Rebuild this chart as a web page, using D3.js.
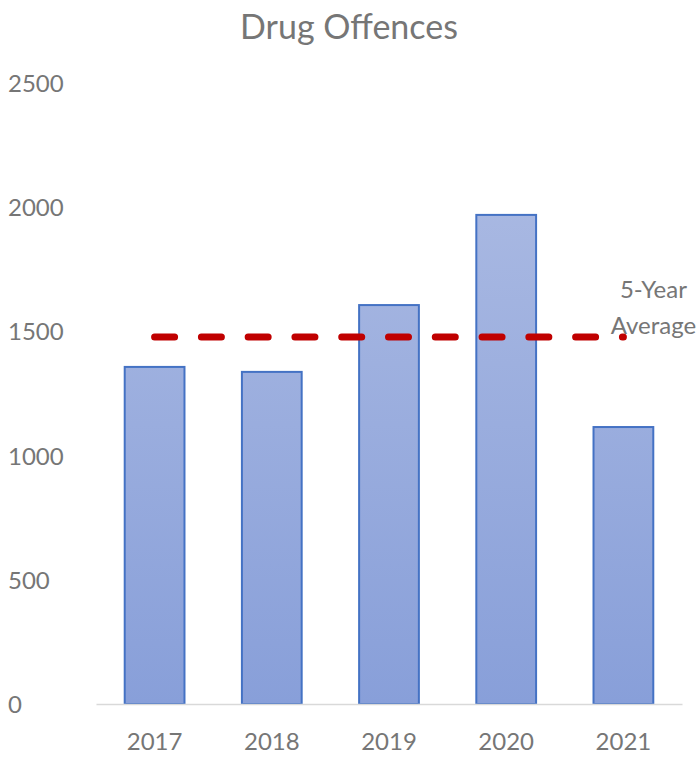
<!DOCTYPE html>
<html>
<head>
<meta charset="utf-8">
<script src="https://cdn.jsdelivr.net/npm/d3@7"></script>
<style>
  body { margin: 0; background: #fff; }
  svg text { font-family: Lato, "Open Sans", sans-serif; fill: #767676; }
</style>
</head>
<body>
<svg id="chart"></svg>
<script>
const years = ['2017', '2018', '2019', '2020', '2021'];
const offences = [1357, 1337, 1606, 1969, 1115];
const fiveYearAverage = [1477, 1477, 1477, 1477, 1477];
const yTicks = [0, 500, 1000, 1500, 2000, 2500];

const fullWidth = 698;
const fullHeight = 760;
const margin = { top: 83, right: 16, bottom: 56, left: 96 };
const width = fullWidth - margin.left - margin.right;
const height = fullHeight - margin.top - margin.bottom;

const svg = d3.select('#chart')
    .attr('width', fullWidth)
    .attr('height', fullHeight);

const defs = svg.append('defs');
const grad = defs.append('linearGradient')
    .attr('id', 'barFill')
    .attr('gradientUnits', 'userSpaceOnUse')
    .attr('x1', 0).attr('x2', 0)
    .attr('y1', 0).attr('y2', height);
grad.append('stop').attr('offset', '0%').attr('stop-color', '#B0BEE4');
grad.append('stop').attr('offset', '100%').attr('stop-color', '#889FD9');

const g = svg.append('g')
    .attr('transform', `translate(${margin.left}, ${margin.top})`);

const x = d3.scaleBand()
    .domain(years)
    .range([0, width])
    .paddingInner(0.49)
    .paddingOuter(0.245);

const y = d3.scaleLinear()
    .domain([0, 2500])
    .range([height, 0]);

// title
svg.append('text')
    .attr('x', fullWidth / 2)
    .attr('y', 39)
    .attr('text-anchor', 'middle')
    .style('font-size', '34px')
    .text('Drug Offences');

// y tick labels (no axis line)
g.append('g')
    .attr('class', 'y axis')
    .call(d3.axisLeft(y).tickValues(yTicks).tickFormat(d3.format('d')).tickSize(0).tickPadding(0))
    .call(s => s.select('.domain').remove())
    .selectAll('text')
      .attr('x', -96 + 8)
      .attr('text-anchor', 'start')
      .attr('dy', '0.35em')
      .style('font-size', '24px');

// bars
g.selectAll('rect.bar')
    .data(years)
  .enter().append('rect')
    .attr('class', 'bar')
    .attr('x', d => x(d))
    .attr('y', (d, i) => y(offences[i]))
    .attr('width', x.bandwidth())
    .attr('height', (d, i) => height - y(offences[i]))
    .attr('fill', 'url(#barFill)')
    .attr('stroke', '#4472C4')
    .attr('stroke-width', 2);

// x axis
g.append('g')
    .attr('class', 'x axis')
    .attr('transform', `translate(0, ${height})`)
    .call(d3.axisBottom(x).tickSize(0).tickPadding(29))
    .call(s => s.select('.domain').attr('stroke', '#D9D9D9').attr('stroke-width', 1.5))
    .selectAll('text')
      .style('font-size', '24px');

// 5-year average line
const line = d3.line()
    .x((d, i) => x(years[i]) + x.bandwidth() / 2)
    .y(d => y(d));

g.append('path')
    .datum(fiveYearAverage)
    .attr('d', line)
    .attr('fill', 'none')
    .attr('stroke', '#C00000')
    .attr('stroke-width', 7)
    .attr('stroke-linecap', 'round')
    .attr('stroke-dasharray', '20 26.78');

const lx = x(years[4]) + x.bandwidth() / 2 + 30;
const lbl = g.append('text')
    .attr('y', y(fiveYearAverage[4]))
    .attr('text-anchor', 'middle')
    .style('font-size', '24px');
lbl.append('tspan').attr('x', lx).attr('dy', -39).text('5-Year');
lbl.append('tspan').attr('x', lx).attr('dy', 36).text('Average');
</script>
</body>
</html>
